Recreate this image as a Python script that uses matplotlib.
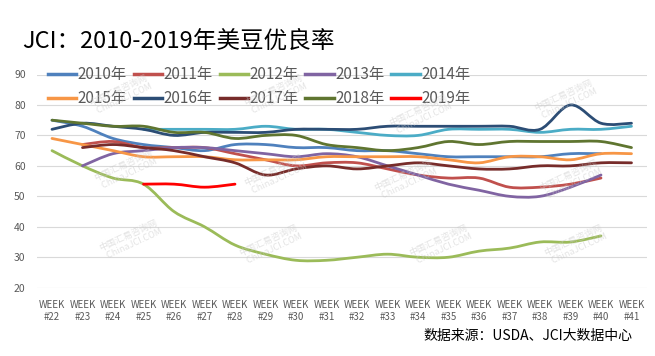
import matplotlib
matplotlib.use('Agg')
import matplotlib.pyplot as plt
import numpy as np
from matplotlib.path import Path
from matplotlib.patches import PathPatch
from matplotlib.lines import Line2D

plt.rcParams['font.family'] = ['Noto Sans CJK SC', 'DejaVu Sans']

weeks = ['WEEK\n#%d' % w for w in range(22, 42)]

# good/excellent ratings (%) per week, None = no data
y2010 = [75, 73, 69, 67, 66, 65, 67, 67, 66, 66, 65, 65, 64, 63, 63, 63, 63, 64, 64, None]
y2011 = [None, 67, 68, 66, 66, 66, 64, 62, 60, 61, 61, 59, 57, 56, 56, 53, 53, 54, 56, None]
y2012 = [65, 60, 56, 54, 45, 40, 34, 31, 29, 29, 30, 31, 30, 30, 32, 33, 35, 35, 37, None]
y2013 = [None, 60, 64, 65, 66, 66, 65, 64, 63, 64, 63, 60, 57, 54, 52, 50, 50, 53, 57, None]
y2014 = [None, None, None, 72, 72, 72, 72, 73, 72, 72, 71, 70, 70, 72, 72, 72, 71, 72, 72, 73]
y2015 = [69, 67, 65, 63, 63, 63, 62, 62, 62, 63, 63, 63, 63, 62, 61, 63, 63, 62, 64, 64]
y2016 = [72, 74, 73, 72, 70, 71, 71, 71, 72, 72, 72, 73, 73, 73, 73, 73, 72, 80, 74, 74]
y2017 = [None, 66, 67, 66, 65, 63, 61, 57, 59, 60, 59, 60, 61, 60, 59, 59, 60, 60, 61, 61]
y2018 = [75, 74, 73, 73, 71, 71, 69, 70, 70, 67, 66, 65, 66, 68, 67, 68, 68, 68, 68, 66]
y2019 = [None, None, None, 54, 54, 53, 54, None, None, None, None, None, None, None, None, None, None, None, None, None]

series = [
    ('2010年', y2010, '#4F81BD'),
    ('2011年', y2011, '#C0504D'),
    ('2012年', y2012, '#9BBB59'),
    ('2013年', y2013, '#8064A2'),
    ('2014年', y2014, '#4BACC6'),
    ('2015年', y2015, '#F79646'),
    ('2016年', y2016, '#2C4D75'),
    ('2017年', y2017, '#772C2A'),
    ('2018年', y2018, '#5F7530'),
    ('2019年', y2019, '#FF0000'),
]


def smooth_path(xs, ys):
    # excel-like smoothed line: cubic bezier through the points
    pts = np.column_stack([xs, ys]).astype(float)
    n = len(pts)
    verts = [pts[0]]
    codes = [Path.MOVETO]
    for i in range(n - 1):
        p0 = pts[i - 1] if i > 0 else pts[i]
        p1 = pts[i]
        p2 = pts[i + 1]
        p3 = pts[i + 2] if i + 2 < n else pts[i + 1]
        c1 = p1 + (p2 - p0) / 6.0
        c2 = p2 - (p3 - p1) / 6.0
        verts += [c1, c2, p2]
        codes += [Path.CURVE4] * 3
    return Path(verts, codes)


fig = plt.figure(figsize=(6.55, 3.56), dpi=100)
ax = fig.add_axes([36.75 / 655, 1 - 287.7 / 356, 610 / 655, (287.7 - 74.5) / 356])

handles = []
for label, vals, color in series:
    xs = [i for i, v in enumerate(vals) if v is not None]
    ys = [v for v in vals if v is not None]
    patch = PathPatch(smooth_path(xs, ys), fill=False, edgecolor=color,
                      lw=2.0, capstyle='round', joinstyle='round', zorder=3)
    ax.add_patch(patch)
    handles.append(Line2D([], [], color=color, lw=2.5, label=label))

ax.set_xlim(-0.5, len(weeks) - 0.5)
ax.set_ylim(20, 90)
ax.set_yticks(range(20, 91, 10))
ax.set_xticks(range(len(weeks)))
ax.set_xticklabels(weeks, fontsize=7, color='#595959', linespacing=1.2)
ax.tick_params(axis='y', labelsize=7.5, labelcolor='#595959', length=0, pad=8)
ax.tick_params(axis='x', length=0, pad=9)
ax.yaxis.grid(True, color='#D9D9D9', lw=0.8)
ax.set_axisbelow(True)
for s in ax.spines.values():
    s.set_visible(False)

# faint watermarks
for (wx, wy) in [(120, 95), (275, 95), (420, 115), (565, 100),
                 (125, 170), (275, 175), (405, 180), (570, 180),
                 (130, 240), (270, 245), (440, 245), (575, 245)]:
    fig.text(wx / 655, 1 - wy / 356, '中国汇易咨询网\n   ChinaJCI.COM', fontsize=6.5,
             color='#C8C8C8', alpha=0.5, rotation=25, ha='center', va='center',
             zorder=1)

# legend fills column by column, so interleave to get rows 2010-2014 / 2015-2019
order = [0, 5, 1, 6, 2, 7, 3, 8, 4, 9]
leg = ax.legend(handles=[handles[i] for i in order], ncol=5, loc='upper left',
                bbox_to_anchor=(48 / 655, 1 - 66 / 356),
                bbox_transform=fig.transFigure, frameon=False, fontsize=11,
                handlelength=1.85, handletextpad=0.1, columnspacing=0.45,
                labelspacing=0.45, borderpad=0, borderaxespad=0)
for t in leg.get_texts():
    t.set_color('#595959')

fig.text(22 / 655, 1 - 41 / 356, 'JCI：2010-2019年美豆优良率', fontsize=17,
         color='#000000', ha='left', va='center')
fig.text(632 / 655, 1 - 336 / 356, '数据来源：USDA、JCI大数据中心', fontsize=10,
         color='#000000', ha='right', va='center')

fig.savefig('out.png', dpi=100)
